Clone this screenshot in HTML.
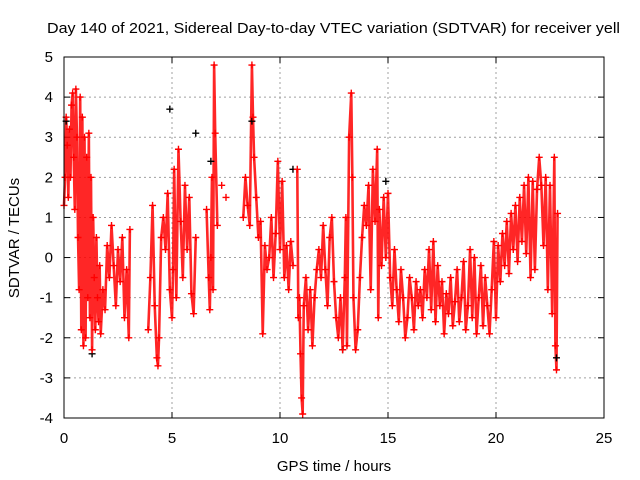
<!DOCTYPE html>
<html><head><meta charset="utf-8">
<style>
html,body{margin:0;padding:0;background:#fff;}
svg{display:block;font-family:"Liberation Sans",sans-serif;}
</style></head>
<body>
<svg id="chart" width="640" height="480" viewBox="0 0 640 480" xmlns="http://www.w3.org/2000/svg">
<text x="47" y="33" font-size="15" fill="#000" textLength="573" lengthAdjust="spacingAndGlyphs">Day 140 of 2021, Sidereal Day-to-day VTEC variation (SDTVAR) for receiver yell</text>
<text transform="translate(19,238) rotate(-90)" text-anchor="middle" font-size="15">SDTVAR / TECUs</text>
<text x="334" y="471" text-anchor="middle" font-size="15">GPS time / hours</text>
<g id="grid"></g>
<g id="ticks"></g>
<g id="marks"></g>
<rect x="64" y="57" width="540" height="361" fill="none" stroke="#000" stroke-width="1"/>
</svg>
<script>
const xTicks=[0,5,10,15,20,25];
const yTicks=[-4,-3,-2,-1,0,1,2,3,4,5];
const redT=[0.0,0.05,0.1,0.15,0.2,0.25,0.3,0.35,0.4,0.45,0.5,0.55,0.6,0.65,0.7,0.75,0.8,0.85,0.9,0.95,1.0,1.05,1.1,1.15,1.2,1.25,1.3,1.35,1.4,1.45,1.5,1.55,1.6,1.65,1.7,1.8,1.9,2.0,2.1,2.2,2.3,2.4,2.5,2.6,2.7,2.8,2.9,3.0,3.05,
3.9,4.0,4.1,4.2,4.3,4.35,4.4,4.5,4.6,4.7,4.8,4.9,5.0,5.05,5.1,5.2,5.3,5.4,5.5,5.6,5.7,5.8,5.9,6.0,6.1,
6.6,6.7,6.75,6.8,6.85,6.9,6.95,7.0,7.1,7.3,7.5,
8.3,8.4,8.5,8.6,8.7,8.75,8.8,8.9,9.0,9.1,9.2,9.3,9.4,9.5,9.6,9.7,9.8,9.9,10.0,10.1,10.2,10.3,10.4,10.5,10.6,10.8,10.85,10.9,10.95,11.0,11.05,11.1,11.2,11.3,11.4,11.5,11.6,11.7,11.8,11.9,12.0,12.1,12.2,12.3,12.4,12.5,12.6,12.7,12.8,12.9,13.0,13.05,13.1,13.2,13.3,13.35,13.4,13.5,13.6,13.7,13.8,13.9,14.0,14.1,14.2,14.3,14.4,14.5,14.55,14.6,14.7,14.8,14.9,15.0,15.1,15.2,15.3,15.4,15.5,15.6,15.7,15.8,15.9,16.0,16.1,16.2,16.3,16.4,16.5,16.6,16.7,16.8,16.9,17.0,17.1,17.2,17.3,17.4,17.5,17.6,17.7,17.8,17.9,18.0,18.1,18.2,18.3,18.4,18.5,18.6,18.7,18.8,18.9,19.0,19.1,19.2,19.3,19.4,19.5,19.6,19.7,19.8,19.9,20.0,20.1,20.2,20.3,20.4,20.5,20.6,20.7,20.8,20.9,21.0,21.1,21.2,21.3,21.4,21.5,21.6,21.7,21.8,21.9,22.0,22.1,22.2,22.3,22.4,22.5,22.6,22.7,22.75,22.8,22.85];
const redV=[1.3,2.0,3.5,2.8,1.5,3.2,2.0,3.8,4.1,2.5,1.2,4.2,3.0,0.5,-0.8,4.0,-1.8,3.5,-2.2,3.0,-2.0,2.5,-1.0,3.1,-1.5,2.0,-2.3,1.0,-0.5,-1.8,0.5,-1.0,-1.6,-0.2,-1.9,-0.8,-1.3,0.3,-0.5,0.8,-0.2,-1.2,0.2,-0.6,0.5,-1.5,-0.3,-2.0,0.7,
-1.8,-0.5,1.3,-1.2,-2.5,-2.7,-2.0,0.5,1.0,0.2,1.6,-0.8,-1.5,-0.3,2.2,-1.0,2.7,0.9,-0.5,1.8,0.2,1.5,-0.9,-1.4,0.5,
1.2,-0.5,-1.3,0.0,2.0,-0.8,4.8,3.1,0.8,1.8,1.5,
1.0,2.0,1.3,0.8,4.8,3.5,2.5,1.5,0.5,0.9,-1.9,0.3,-0.3,0.0,1.0,-0.5,0.6,2.4,0.2,1.9,-0.5,0.3,-0.8,0.4,-0.2,2.2,-1.5,-1.0,-2.4,-3.5,-3.9,-1.2,-0.5,-1.8,-0.8,-2.2,-1.0,-0.3,0.2,-0.5,0.8,-0.3,-1.2,0.5,1.0,-0.6,-1.5,-2.0,-1.0,-2.3,-0.5,1.0,-2.2,3.0,4.1,2.0,-1.0,-2.3,-1.8,-0.5,0.5,1.3,0.8,1.8,-0.8,2.2,0.9,2.7,-1.5,1.2,-0.2,1.5,0.0,1.6,-0.5,-1.2,0.2,-0.8,-1.6,-0.3,-1.0,-2.0,-1.5,-0.5,-1.0,-1.8,-0.6,-1.2,-0.8,-1.5,-0.3,-1.0,0.2,-1.3,0.4,-1.6,-0.2,-1.2,-0.6,-1.9,-0.9,-1.4,-0.5,-1.7,-1.1,-0.3,-1.6,-1.0,-0.1,-1.8,-1.2,0.2,-1.5,0.0,-1.9,-1.0,-0.2,-1.7,-0.5,-1.2,-1.9,-0.8,0.4,-1.5,0.3,-0.6,0.6,-0.2,0.9,-0.4,1.1,0.2,1.3,-0.1,1.5,0.4,1.8,0.1,2.0,-0.5,1.9,-0.3,1.7,2.5,1.8,0.3,2.0,-0.8,1.8,-1.4,2.5,-2.2,-2.8,1.1];
const blackT=[0.1,1.3,4.9,6.1,6.8,8.7,10.6,14.9,12.9,22.8];
const blackV=[3.4,-2.4,3.7,3.1,2.4,3.4,2.2,1.9,-2.3,-2.5];
const X0=64,X1=604,Y0=418,Y1=57,XMIN=0,XMAX=25,YMIN=-4,YMAX=5;
function xs(t){return X0+(t-XMIN)/(XMAX-XMIN)*(X1-X0);}
function ys(v){return Y0-(v-YMIN)/(YMAX-YMIN)*(Y0-Y1);}
const NS="http://www.w3.org/2000/svg";
function mk(tag,attrs,parent){const e=document.createElementNS(NS,tag);for(const k in attrs)e.setAttribute(k,attrs[k]);parent.appendChild(e);return e;}
const grid=document.getElementById('grid'),ticks=document.getElementById('ticks'),marks=document.getElementById('marks');
xTicks.forEach(t=>{const x=xs(t);
 if(t>XMIN&&t<XMAX){const g=mk('line',{x1:x,x2:x,y1:Y1,y2:Y0,stroke:'#a0a0a0','stroke-dasharray':'2,3'},grid);}
 const a=mk('line',{x1:x,x2:x,y1:Y0,y2:Y0-6,stroke:'#000'},ticks);
 const b=mk('line',{x1:x,x2:x,y1:Y1,y2:Y1+6,stroke:'#000'},ticks);
 const l=mk('text',{x:x,y:443,'text-anchor':'middle','font-size':'15'},ticks);l.textContent=t;
});
yTicks.forEach(v=>{const y=ys(v);
 if(v>YMIN&&v<YMAX){const g=mk('line',{x1:X0,x2:X1,y1:y,y2:y,stroke:'#a0a0a0','stroke-dasharray':'2,3'},grid);}
 const a=mk('line',{x1:X0,x2:X0+6,y1:y,y2:y,stroke:'#000'},ticks);
 const b=mk('line',{x1:X1,x2:X1-6,y1:y,y2:y,stroke:'#000'},ticks);
 const l=mk('text',{x:53,y:y+5,'text-anchor':'end','font-size':'15'},ticks);l.textContent=v;
});
let d='';
for(let i=0;i<redT.length;i++){const x=xs(redT[i]),y=ys(redV[i]);
 if(i>0&&redT[i]-redT[i-1]<=0.2) d+='L'+x+','+y; else d+='M'+x+','+y;}
const tr=mk('path',{d:d,fill:'none',stroke:'#ff0000','stroke-width':'2.6','stroke-opacity':'0.85','stroke-linejoin':'round'},marks);


function plus(t,v,col,name){const x=xs(t),y=ys(v);
 const p=mk('path',{d:`M${x-3.5},${y}H${x+3.5}M${x},${y-3.5}V${y+3.5}`,stroke:col,'stroke-width':'1.4',fill:'none'},marks);
 
 }
blackT.forEach((t,i)=>plus(t,blackV[i],'#000','black-point'));
redT.forEach((t,i)=>plus(t,redV[i],'#ff0000','red-point'));
</script>
</body></html>
